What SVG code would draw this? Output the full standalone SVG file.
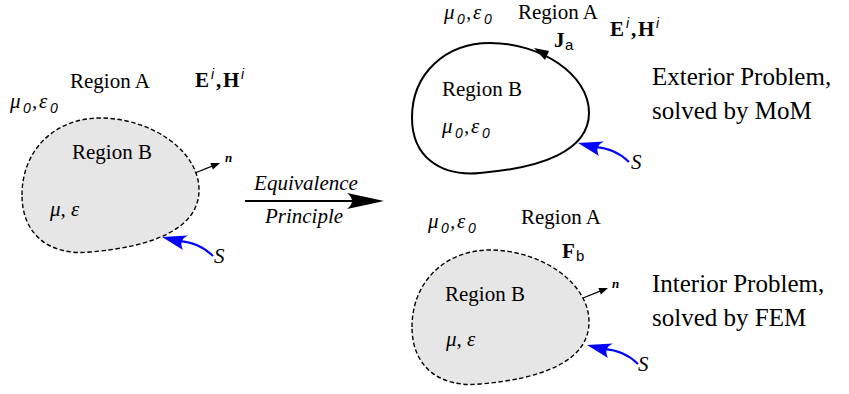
<svg xmlns="http://www.w3.org/2000/svg" xmlns:xlink="http://www.w3.org/1999/xlink" width="849" height="394" viewBox="0 0 849 394">
<style>
  .t { font-family: "Liberation Serif", "Times New Roman", serif; font-size: 21px; fill: #000; }
  .big { font-family: "Liberation Serif", "Times New Roman", serif; font-size: 25px; fill: #000; }
  .it { font-style: italic; }
  .bd { font-weight: bold; }
  .sub { font-family: "Liberation Sans", Arial, sans-serif; font-style: italic; font-size: 14px; font-weight: normal; }
  .subr { font-family: "Liberation Sans", Arial, sans-serif; font-size: 15px; font-weight: normal; font-style: normal; }
  .nlab { font-family: "Liberation Serif", serif; font-style: italic; font-weight: bold; font-size: 13px; }
  .dashed { fill: #e6e6e6; stroke: #000; stroke-width: 1.4; stroke-dasharray: 4.5 2.5; }
  .solid { fill: #fff; stroke: #000; stroke-width: 2; }
  .blue { fill: none; stroke: #0000ff; stroke-width: 2; }
  .bluefill { fill: #0000ff; stroke: none; }
  .blk { fill: none; stroke: #000; stroke-width: 1.3; }
  .blkfill { fill: #000; stroke: none; }
</style>
<defs>
  <path id="blob" d="M22,195 C22,150 55,118 100,118 C150,118 199,150 199,190 C199,230 150,247 90,252 C50,256 22,235 22,195 Z"/>
  <g id="sarrow">
    <path class="blue" d="M51,19 C42,10 31,5 17,4"/>
    <path class="bluefill" d="M0,0 L26,-1.5 Q16,3 21,13 Z"/>
  </g>
  <g id="narrow">
    <path class="blk" d="M0,0 L17,-6.8"/>
    <path class="blkfill" d="M25,-10 L17.95,-3.41 L15.35,-9.91 Z"/>
  </g>
</defs>

<g id="left-problem">
  <use xlink:href="#blob" href="#blob" class="dashed"/>
  <text class="t" x="70" y="88">Region A</text>
  <text class="t bd" y="87"><tspan x="195">E</tspan><tspan class="sub" x="211" y="79">i</tspan><tspan x="216" y="87">,</tspan><tspan x="223">H</tspan><tspan class="sub" x="241" y="79">i</tspan></text>
  <text class="t it" y="108"><tspan x="10">μ</tspan><tspan class="sub" x="23" y="113">0</tspan><tspan x="32" y="108">,</tspan><tspan x="39">ε</tspan><tspan class="sub" x="50" y="113">0</tspan></text>
  <text class="t" x="72" y="159">Region B</text>
  <text class="t it" x="50" y="216">μ, ε</text>
  <text class="nlab" x="225" y="162">n</text>
  <text class="t it" x="214" y="263">S</text>
</g>

<g id="exterior-problem">
  <use xlink:href="#blob" href="#blob" class="solid" transform="translate(390,-71.5) scale(1,0.97)"/>
  <text class="t it" y="19"><tspan x="444">μ</tspan><tspan class="sub" x="457" y="24">0</tspan><tspan x="466" y="19">,</tspan><tspan x="473">ε</tspan><tspan class="sub" x="484" y="24">0</tspan></text>
  <text class="t" x="518" y="19">Region A</text>
  <text class="t bd" y="47"><tspan x="554">J</tspan><tspan class="subr" x="565" y="50">a</tspan></text>
  <text class="t bd" y="36"><tspan x="610">E</tspan><tspan class="sub" x="626" y="28">i</tspan><tspan x="631" y="36">,</tspan><tspan x="638">H</tspan><tspan class="sub" x="656" y="28">i</tspan></text>
  <text class="t" x="442" y="96">Region B</text>
  <text class="t it" y="133"><tspan x="442">μ</tspan><tspan class="sub" x="455" y="138">0</tspan><tspan x="464" y="133">,</tspan><tspan x="471">ε</tspan><tspan class="sub" x="482" y="138">0</tspan></text>
  <text class="t it" x="631" y="169">S</text>
  <text class="big" x="652" y="85">Exterior Problem,</text>
  <text class="big" x="652" y="119">solved by MoM</text>
</g>

<g id="interior-problem">
  <use xlink:href="#blob" href="#blob" class="dashed" transform="translate(390,132)"/>
  <text class="t it" y="228"><tspan x="428">μ</tspan><tspan class="sub" x="441" y="233">0</tspan><tspan x="450" y="228">,</tspan><tspan x="457">ε</tspan><tspan class="sub" x="468" y="233">0</tspan></text>
  <text class="t" x="521" y="224">Region A</text>
  <text class="t bd" y="258"><tspan x="562">F</tspan><tspan class="subr" x="576" y="261">b</tspan></text>
  <text class="t" x="445" y="301">Region B</text>
  <text class="t it" x="446" y="346">μ, ε</text>
  <text class="nlab" x="612" y="288">n</text>
  <text class="t it" x="638" y="371">S</text>
  <text class="big" x="652" y="292">Interior Problem,</text>
  <text class="big" x="652" y="326">solved by FEM</text>
</g>

<g id="connectors">
  <g id="equivalence">
    <path d="M245,201 L364,201" stroke="#000" stroke-width="2" fill="none"/>
    <path d="M384,201 Q366,197 347,193 Q357,201 347,209 Q366,205 384,201 Z" fill="#000"/>
    <text class="t it" x="306" y="190" text-anchor="middle">Equivalence</text>
    <text class="t it" x="304" y="223" text-anchor="middle">Principle</text>
  </g>
  <use xlink:href="#narrow" href="#narrow" transform="translate(195,173)"/>
  <use xlink:href="#narrow" href="#narrow" transform="translate(583,298)"/>
  <use xlink:href="#sarrow" href="#sarrow" transform="translate(162,237)"/>
  <use xlink:href="#sarrow" href="#sarrow" transform="translate(578,143)"/>
  <use xlink:href="#sarrow" href="#sarrow" transform="translate(587,345)"/>
  <path id="ja-arrow" d="M534,48 L549,51 L545,60 Z" fill="#000"/>
</g>
</svg>
